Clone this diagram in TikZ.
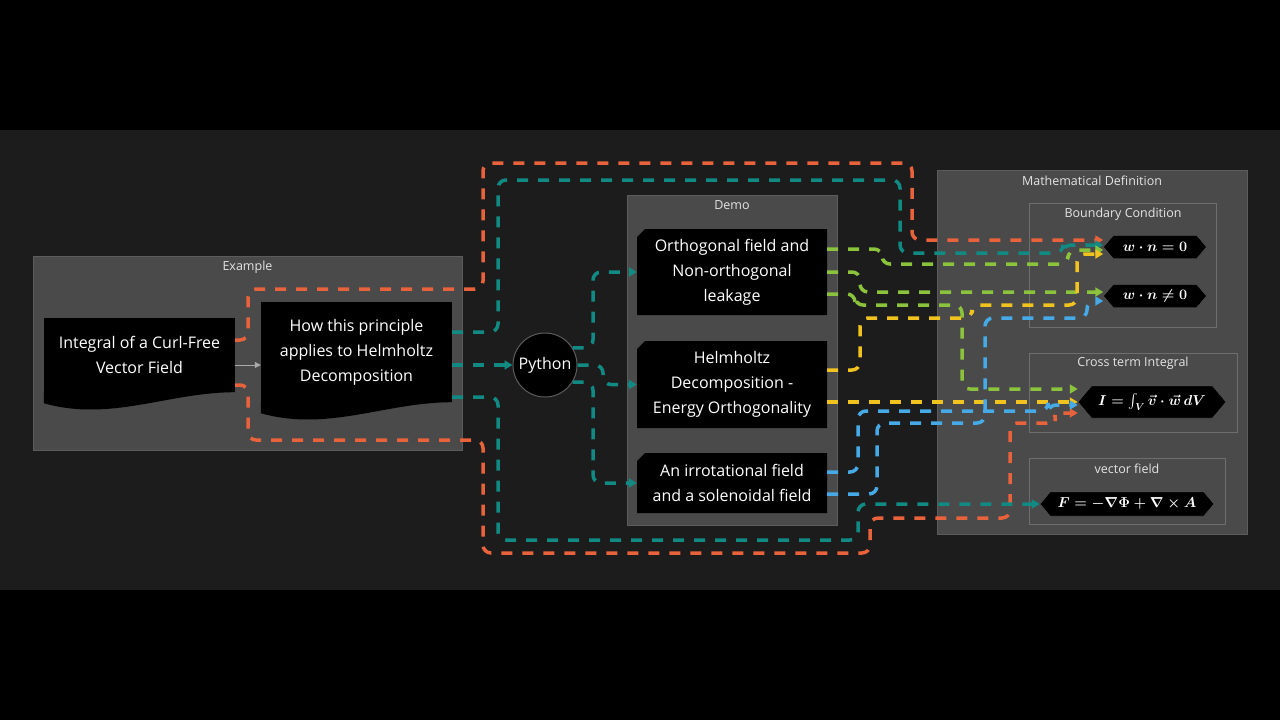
\documentclass[tikz,border=0pt]{standalone}
\usepackage[no-math]{fontspec}
\usepackage{amsmath}
\setmainfont{Open Sans}
\definecolor{canvasgray}{RGB}{28,28,28}
\definecolor{panelgray}{RGB}{74,74,74}
\definecolor{panelline}{RGB}{92,92,92}
\definecolor{subline}{RGB}{110,110,110}
\definecolor{captiontext}{RGB}{228,228,228}
\definecolor{arrowgray}{RGB}{170,170,170}
\definecolor{flowred}{RGB}{232,98,60}
\definecolor{flowteal}{RGB}{18,138,132}
\definecolor{flowgreen}{RGB}{140,195,60}
\definecolor{flowyellow}{RGB}{240,195,30}
\definecolor{flowblue}{RGB}{70,170,230}
\usetikzlibrary{arrows.meta,shapes.symbols}
\tikzset{
	panel/.style={
		rectangle,
		fill=panelgray,
		draw=panelline,
		line width=1pt
	},
	subpanel/.style={
		rectangle,
		draw=subline,
		line width=1pt
	},
	caption/.style={
		text=captiontext,
		font=\fontsize{12.5}{15}\selectfont
	},
	docbox/.style={
		rectangle,
		fill=black,
		text=white,
		align=center,
		inner sep=0pt,
		minimum width=191pt,
		font=\fontsize{16}{25}\selectfont,
		append after command={\pgfextra{
			\fill[black] (\tikzlastnode.south west) -- ++(0,-11pt)
				.. controls +(67pt,-19pt) and +(-67pt,0pt) .. (\tikzlastnode.south east) -- cycle;}}
	},
	task/.style={
		rectangle,
		text=white,
		align=center,
		inner sep=0pt,
		minimum width=190pt,
		font=\fontsize{16}{25}\selectfont,
		path picture={
			\fill[black] ([xshift=8pt]path picture bounding box.north west)
				-- (path picture bounding box.north east)
				-- (path picture bounding box.south east)
				-- (path picture bounding box.south west)
				-- ([yshift=-8pt]path picture bounding box.north west) -- cycle;}
	},
	hub/.style={
		circle,
		fill=black,
		draw=panelline,
		line width=1pt,
		inner sep=0pt,
		minimum size=64pt,
		text=white,
		font=\fontsize{16}{19}\selectfont
	},
	formula/.style={
		signal,
		signal to=west and east,
		signal pointer angle=100,
		fill=black,
		draw=panelline,
		inner sep=0pt,
		text=white,
		font=\boldmath\fontsize{14.5}{16}\selectfont
	},
	flow/.style={
		line width=3.5pt,
		dash pattern=on 11pt off 10pt,
		rounded corners=8pt,
		-{Triangle[length=8pt,width=9pt]}
	},
}

\begin{document}
\begin{tikzpicture}[x=1pt,y=-1pt]
\useasboundingbox[fill=black] (0,0) rectangle (1280,720);
\fill[canvasgray] (0,130) rectangle (1280,590);

% panels
\node[panel, minimum width=429pt, minimum height=194pt] (example) at (247.5,353) {};
\node[caption] (examplecap) at (247.5,267) {Example};
\node[panel, minimum width=210pt, minimum height=330pt] (demo) at (732,360) {};
\node[caption] (democap) at (732,205) {Demo};
\node[panel, minimum width=310pt, minimum height=364pt] (mathdef) at (1092,352) {};
\node[caption] (mathdefcap) at (1092,181) {Mathematical Definition};
\node[subpanel, minimum width=187pt, minimum height=124pt] (boundary) at (1122.5,265) {};
\node[caption] (boundarycap) at (1123,214) {Boundary Condition};
\node[subpanel, minimum width=208pt, minimum height=79pt] (crossterm) at (1133,392.5) {};
\node[caption] (crosstermcap) at (1133,363) {Cross term Integral};
\node[subpanel, minimum width=196pt, minimum height=66pt] (vectorbox) at (1127,491) {};
\node[caption] (vectorboxcap) at (1127,469) {vector field};

% nodes
\node[docbox, minimum height=74pt] (integral) at (139.5,355) {Integral of a Curl-Free\\Vector Field};
\node[docbox, minimum height=100pt] (howto) at (356.5,352) {How this principle\\applies to Helmholtz\\Decomposition};
\node[hub] (python) at (545,365) {Python};
\node[task, minimum height=86pt] (ortho) at (732,272) {Orthogonal field and\\Non-orthogonal\\leakage};
\node[task, minimum height=87pt] (helm) at (732,384.5) {Helmholtz\\Decomposition -\\Energy Orthogonality};
\node[task, minimum height=60pt] (irrot) at (732,483) {An irrotational field\\and a solenoidal field};
\node[formula, minimum width=103pt, minimum height=23pt] (wnzero) at (1155,247) {$w\cdot n=0$};
\node[formula, minimum width=103pt, minimum height=23pt] (wnonzero) at (1155,296) {$w\cdot n\neq 0$};
\node[formula, minimum width=148pt, minimum height=32pt] (crossint) at (1152,402) {$I=\int_V \vec{v}\cdot\vec{w}\,dV$};
\node[formula, minimum width=174pt, minimum height=24pt] (vecfield) at (1127,504) {$F=-\nabla\Phi+\nabla\times A$};

\draw[-{Triangle[length=6pt,width=6pt]}, line width=1pt, arrowgray] ([yshift=-10pt]integral.east) -- ([yshift=-13pt]howto.west);

% red
\draw[flow, flowred] ([yshift=15pt]integral.east) -| (248,289) -| (483,163) -| (912,240) -- ([yshift=7pt]wnzero.west);
\draw[flow, flowred] ([yshift=-30pt]integral.east) -| (248,440) -| (483,553) -| (870,518) -| (1010,423) -- (1055,423) |- ([yshift=-11pt]crossint.west);

% teal
\draw[flow, flowteal] ([yshift=-13pt]howto.east) -- (python);
\draw[flow, flowteal] ([yshift=20pt]howto.east) -| (498,180) -| (900,253) -- (1063,253) |- ([yshift=2pt]wnzero.west);
\draw[flow, flowteal] ([yshift=-45pt]howto.east) -| (498,540) -| (858,504) -- (vecfield.west);
\draw[flow, flowteal] (python.32) -| (593,272) -- (ortho.west);
\draw[flow, flowteal] (python.east) -| (603,384.5) -- (helm.west);
\draw[flow, flowteal] (python.-32) -| (593,483) -- (irrot.west);

% green
\draw[flow, flowgreen] ([yshift=23pt]ortho.east) -| (882,264) -- (1068,264) |- ([yshift=-3pt]wnzero.west);
\draw[flow, flowgreen] (ortho.east) -| (860,292) -- ([yshift=4pt]wnonzero.west);
\draw[flow, flowgreen] ([yshift=-22pt]ortho.east) -| (855,305) -| (962,389) -- ([yshift=13pt]crossint.west);

% yellow
\draw[flow, flowyellow] ([yshift=14.5pt]helm.east) -| (860,318) -| (972,305) -| (1077,254) -- ([yshift=-7pt]wnzero.west);
\draw[flow, flowyellow] (helm.east |- crossint.west) -- (crossint.west);

% blue
\draw[flow, flowblue] ([yshift=11pt]irrot.east) -| (858,411) -- (1048,411) |- ([yshift=-3pt]crossint.west);
\draw[flow, flowblue] ([yshift=-11pt]irrot.east) -| (877,423) -| (985,318) -| (1087,301) -- ([yshift=-5pt]wnonzero.west);
\end{tikzpicture}
\end{document}
